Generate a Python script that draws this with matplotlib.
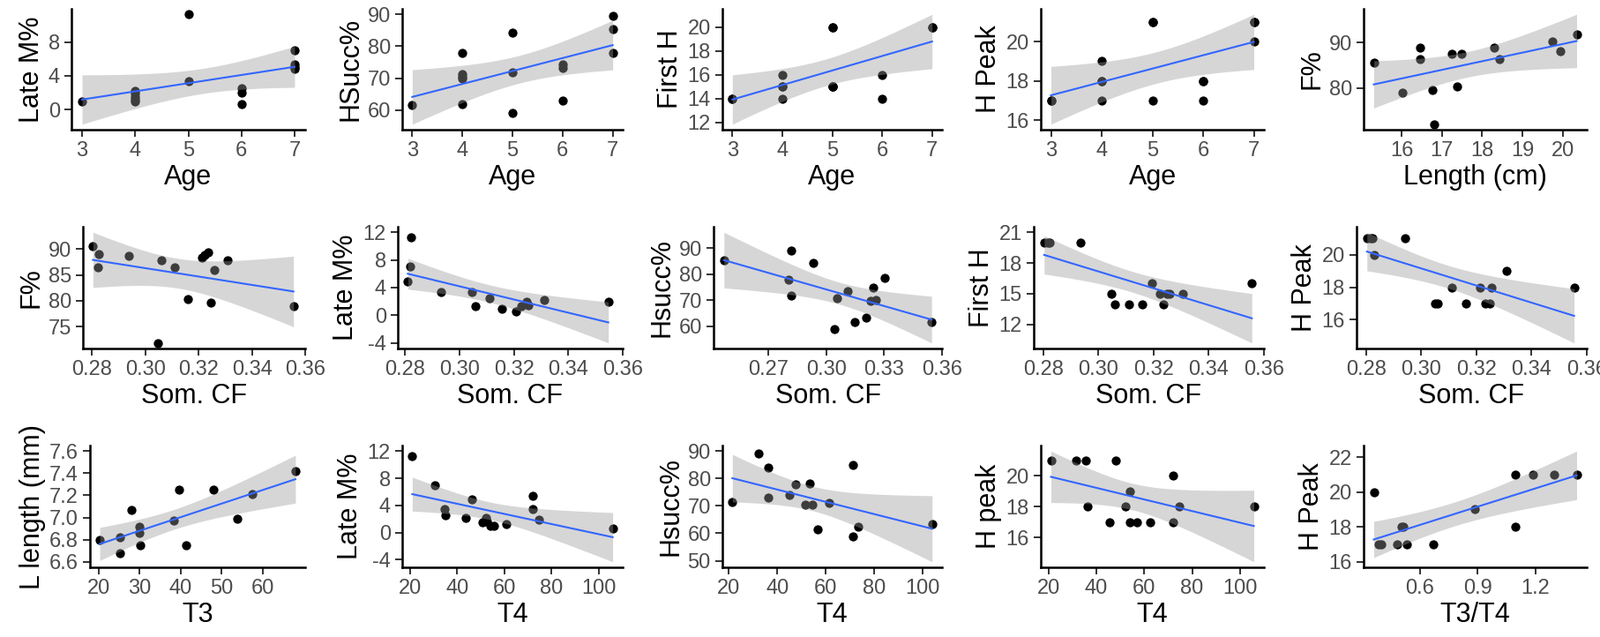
import numpy as np
import matplotlib
matplotlib.use("Agg")
import matplotlib.pyplot as plt

plt.rcParams['font.family'] = ['Liberation Sans', 'DejaVu Sans']

# ---- row 1: against age / length ----
age_a = [3, 4, 4, 4, 4, 4, 5, 5, 6, 6, 6, 7, 7, 7, 7]
latem_a = [1.0, 2.2, 1.9, 1.5, 1.2, 1.0, 11.3, 3.4, 2.5, 2.0, 0.6, 7.0, 5.4, 5.0, 4.8]

age_b = [3, 4, 4, 4, 4, 4, 5, 5, 5, 6, 6, 6, 7, 7, 7]
hsucc_b = [61.6, 78.0, 71.3, 70.5, 69.8, 62.0, 84.3, 71.8, 59.0, 74.2, 73.1, 63.1, 89.6, 85.5, 78.0]

age_c = [3, 3, 4, 4, 4, 4, 5, 5, 5, 5, 5, 6, 6, 7, 7]
firsth_c = [14, 14, 14, 15, 15, 16, 20, 20, 15, 15, 15, 16, 14, 20, 20]

age_d = [3, 3, 4, 4, 4, 4, 5, 5, 5, 6, 6, 6, 7, 7, 7]
hpeak_d = [17, 17, 19, 18, 18, 17, 21, 21, 17, 18, 18, 17, 21, 21, 20]

length_e = [15.3, 16.02, 16.45, 16.45, 16.75, 16.8, 17.25, 17.38, 17.48, 18.3, 18.42, 19.75, 19.95, 20.35]
fpct_e = [85.6, 78.9, 88.9, 86.4, 79.5, 72.0, 87.6, 80.3, 87.6, 88.9, 86.4, 90.3, 88.2, 91.8]

# ---- row 2: against somatic condition factor ----
somcf_f = [0.2803, 0.2821, 0.2824, 0.2937, 0.3048, 0.3059, 0.3110, 0.3160, 0.3212, 0.3222, 0.3236, 0.3247, 0.3258, 0.3307, 0.3556]
fpct_f = [90.6, 86.5, 89.0, 88.7, 71.8, 87.8, 86.4, 80.3, 88.4, 88.8, 89.3, 79.6, 85.9, 87.9, 78.9]

somcf_g = [0.2810, 0.2820, 0.2823, 0.2933, 0.3047, 0.3057, 0.3109, 0.3156, 0.3209, 0.3226, 0.3245, 0.3252, 0.3311, 0.3547]
latem_g = [4.9, 7.0, 11.3, 3.3, 3.3, 1.3, 2.5, 1.0, 0.55, 1.3, 1.9, 1.5, 2.2, 1.9]

somcf_h = [0.2471, 0.2804, 0.2817, 0.2821, 0.2934, 0.3042, 0.3056, 0.3110, 0.3150, 0.3208, 0.3231, 0.3244, 0.3258, 0.3303, 0.3546]
hsucc_h = [85.3, 78.1, 71.7, 89.3, 84.5, 59.0, 70.9, 73.5, 61.5, 63.4, 69.7, 74.8, 70.1, 78.5, 61.6]

somcf_i = [0.2803, 0.2816, 0.2824, 0.2935, 0.3048, 0.3059, 0.3110, 0.3160, 0.3195, 0.3222, 0.3236, 0.3247, 0.3258, 0.3307, 0.3556]
firsth_i = [20, 20, 20, 20, 15, 14, 14, 14, 16, 15, 14, 15, 15, 15, 16]

somcf_j = [0.2803, 0.2816, 0.2824, 0.2830, 0.2940, 0.3049, 0.3060, 0.3111, 0.3161, 0.3213, 0.3233, 0.3249, 0.3256, 0.3309, 0.3554]
hpeak_j = [21, 21, 21, 20, 21, 17, 17, 18, 17, 18, 17, 17, 18, 19, 18]

# ---- row 3: against thyroid hormones ----
t3_k = [20.3, 25.3, 25.3, 28.1, 29.9, 30.0, 30.2, 38.2, 39.5, 41.4, 47.9, 53.8, 57.5, 67.9]
llen_k = [6.80, 6.82, 6.68, 7.07, 6.92, 6.86, 6.75, 6.97, 7.25, 6.75, 7.25, 6.99, 7.21, 7.42]

t4_l = [21.0, 30.5, 34.8, 35.1, 43.5, 46.3, 50.6, 52.1, 52.8, 54.0, 55.7, 60.7, 72.0, 72.0, 74.5, 105.9]
latem_l = [11.3, 7.0, 3.4, 2.5, 2.2, 4.9, 1.5, 2.2, 1.7, 1.0, 1.0, 1.3, 5.4, 3.4, 1.9, 0.6]

t4_m = [21.4, 32.1, 36.1, 36.1, 45.0, 47.4, 51.4, 53.3, 54.6, 56.7, 61.4, 71.4, 71.4, 73.6, 104.0]
hsucc_m = [71.5, 89.0, 84.1, 73.1, 74.1, 77.8, 70.5, 78.2, 70.5, 61.5, 71.0, 85.0, 59.0, 62.4, 63.4]

t4_n = [21.0, 31.6, 35.7, 36.4, 45.4, 48.0, 52.2, 54.1, 54.1, 57.0, 62.3, 72.2, 72.2, 74.8, 105.8]
hpeak_n = [21, 21, 21, 18, 17, 21, 18, 19, 17, 17, 17, 20, 17, 18, 18]

ratio_o = [0.360, 0.383, 0.401, 0.481, 0.505, 0.512, 0.531, 0.671, 0.884, 1.097, 1.097, 1.186, 1.298, 1.414]
hpeak_o = [20, 17, 17, 17, 18, 18, 17, 17, 19, 21, 18, 21, 21, 21]

panels = [
    (age_a, latem_a, "Age", "Late M%", [3, 4, 5, 6, 7], [0, 4, 8]),
    (age_b, hsucc_b, "Age", "HSucc%", [3, 4, 5, 6, 7], [60, 70, 80, 90]),
    (age_c, firsth_c, "Age", "First H", [3, 4, 5, 6, 7], [12, 14, 16, 18, 20]),
    (age_d, hpeak_d, "Age", "H Peak", [3, 4, 5, 6, 7], [16, 18, 20]),
    (length_e, fpct_e, "Length (cm)", "F%", [16, 17, 18, 19, 20], [80, 90]),
    (somcf_f, fpct_f, "Som. CF", "F%", [0.28, 0.30, 0.32, 0.34, 0.36], [75, 80, 85, 90]),
    (somcf_g, latem_g, "Som. CF", "Late M%", [0.28, 0.30, 0.32, 0.34, 0.36], [-4, 0, 4, 8, 12]),
    (somcf_h, hsucc_h, "Som. CF", "Hsucc%", [0.27, 0.30, 0.33, 0.36], [60, 70, 80, 90]),
    (somcf_i, firsth_i, "Som. CF", "First H", [0.28, 0.30, 0.32, 0.34, 0.36], [12, 15, 18, 21]),
    (somcf_j, hpeak_j, "Som. CF", "H Peak", [0.28, 0.30, 0.32, 0.34, 0.36], [16, 18, 20]),
    (t3_k, llen_k, "T3", "L length (mm)", [20, 30, 40, 50, 60], [6.6, 6.8, 7.0, 7.2, 7.4, 7.6]),
    (t4_l, latem_l, "T4", "Late M%", [20, 40, 60, 80, 100], [-4, 0, 4, 8, 12]),
    (t4_m, hsucc_m, "T4", "Hsucc%", [20, 40, 60, 80, 100], [50, 60, 70, 80, 90]),
    (t4_n, hpeak_n, "T4", "H peak", [20, 40, 60, 80, 100], [16, 18, 20]),
    (ratio_o, hpeak_o, "T3/T4", "H Peak", [0.6, 0.9, 1.2], [16, 18, 20, 22]),
]

# 95% t quantiles by degrees of freedom
T95 = {10: 2.228, 11: 2.201, 12: 2.179, 13: 2.160, 14: 2.145, 15: 2.131}


def lm_band(x, y):
    x = np.asarray(x, float)
    y = np.asarray(y, float)
    b, a = np.polyfit(x, y, 1)
    xs = np.linspace(x.min(), x.max(), 80)
    fit = a + b * xs
    n = len(x)
    res = y - (a + b * x)
    s = np.sqrt(res @ res / (n - 2))
    sxx = ((x - x.mean()) ** 2).sum()
    se = s * np.sqrt(1.0 / n + (xs - x.mean()) ** 2 / sxx)
    t = T95[n - 2]
    return xs, fit, fit - t * se, fit + t * se


def fmt(ticks):
    if all(float(t).is_integer() for t in ticks):
        return ["%d" % t for t in ticks]
    step = abs(ticks[1] - ticks[0])
    k = 1
    while abs(round(step, k) - step) > 1e-9:
        k += 1
    return [("%." + str(k) + "f") % t for t in ticks]


W, H = 1814, 722
row_tb = [(10, 147), (257, 395), (505, 643)]
row_left = [[81, 456, 819, 1180, 1546],
            [94, 451, 809, 1172, 1538],
            [102, 456, 819, 1180, 1546]]
col_right = [346, 706, 1068, 1433, 1799]

fig = plt.figure(figsize=(W / 100, H / 100), dpi=100)

for i, (x, y, xl, yl, xt, yt) in enumerate(panels):
    r, c = divmod(i, 5)
    top, bot = row_tb[r]
    left, right = row_left[r][c], col_right[c]
    ax = fig.add_axes([left / W, 1 - bot / H, (right - left) / W, (bot - top) / H])

    xs, fit, lo, hi = lm_band(x, y)
    ax.scatter(x, y, s=55, color="black", linewidths=0, zorder=2)
    ax.fill_between(xs, lo, hi, color="#999999", alpha=0.4, lw=0, zorder=3)
    ax.plot(xs, fit, color="#3366FF", lw=1.5, zorder=4)

    x0, x1 = min(x), max(x)
    y0 = min(min(y), lo.min())
    y1 = max(max(y), hi.max())
    y0, y1 = min(y0, yt[0]), max(y1, yt[-1])
    ax.set_xlim(x0 - 0.05 * (x1 - x0), x1 + 0.05 * (x1 - x0))
    ax.set_ylim(y0 - 0.05 * (y1 - y0), y1 + 0.05 * (y1 - y0))

    ax.set_xticks(xt)
    ax.set_xticklabels(fmt(xt))
    ax.set_yticks(yt)
    ax.set_yticklabels(fmt(yt))

    for side in ["top", "right"]:
        ax.spines[side].set_visible(False)
    for side in ["left", "bottom"]:
        ax.spines[side].set_linewidth(1.8)
        ax.spines[side].set_color("black")
    ax.tick_params(length=5.5, width=1.4, color="#333333", labelcolor="#4D4D4D",
                   labelsize=17, pad=4)
    ax.set_xlabel(xl, fontsize=22, labelpad=2.5)
    ax.set_ylabel(yl, fontsize=22, labelpad=3)

fig.savefig("out.png", dpi=100)
